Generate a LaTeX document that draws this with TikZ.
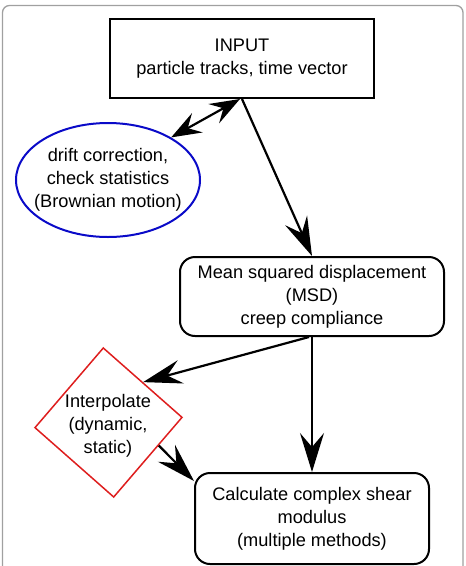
\documentclass[tikz,border=0pt]{standalone}
\usepackage{fontspec}
\setmainfont{Liberation Sans}
\usepackage{tikz}
\usepackage{xcolor}
\usetikzlibrary{positioning,arrows.meta,calc,shapes.geometric}
\definecolor{flowblue}{RGB}{10,10,200}
\definecolor{flowred}{RGB}{222,30,30}
\definecolor{flowframe}{RGB}{160,160,160}
\tikzset{
  txt/.style={align=center, font=\fontsize{18.2}{23}\selectfont, inner sep=0pt},
  box/.style={txt, draw, line width=2pt, minimum width=264pt, minimum height=79pt},
  roundbox/.style={txt, draw, line width=2pt, rounded corners=15pt},
  ellbox/.style={txt, draw=flowblue, ellipse, line width=2pt, inner xsep=-12pt, minimum width=184pt, minimum height=114pt},
  diabox/.style={draw=flowred, diamond, line width=1.5pt, minimum width=148pt, minimum height=150pt, inner sep=0pt},
  arrow/.style={-{Stealth[length=39pt, width=24pt, inset=14pt]}, line width=2.2pt},
  dblarrow/.style={{Stealth[length=30pt, width=22pt, inset=11pt]}-{Stealth[length=30pt, width=22pt, inset=11pt]}, line width=2.2pt}
}
\begin{document}
\begin{tikzpicture}[x=1pt, y=1pt]
        \useasboundingbox (0,0) rectangle (466,-566);
        \draw[flowframe, line width=1.3pt, rounded corners=7pt] (2.5,-5.5) rectangle (463,-610);
        \node[box] (in) at (242,-58.5) {INPUT\\particle tracks, time vector};
        \node[ellbox] (ell) at (108,-180) {drift correction,\\check statistics\\(Brownian motion)};
        \node[roundbox, minimum width=264pt, minimum height=79pt] (msd) at (312,-296.5) {Mean squared displacement\\(MSD)\\creep compliance};
        \node[diabox, rotate=4] (interp) at (108.5,-422.5) {};
        \node[txt] (interptxt) at (108,-425.5) {Interpolate\\(dynamic,\\static)};
        \node[roundbox, minimum width=234pt, minimum height=91pt] (calc) at (312,-518.5) {Calculate complex shear\\modulus\\(multiple methods)};
        \draw[dblarrow] (ell.34) -- ([xshift=-2pt]in.south);
        \draw[arrow] (in.south) -- (msd.north);
        \draw[arrow] ([xshift=-3pt]msd.south) -- (interp.north east);
        \draw[arrow] (msd.south) -- (calc.north);
        \draw[arrow] ($(interp.east)!0.35!(interp.south)$) -- ([yshift=-9pt]calc.north west);
      \end{tikzpicture}
\end{document}
